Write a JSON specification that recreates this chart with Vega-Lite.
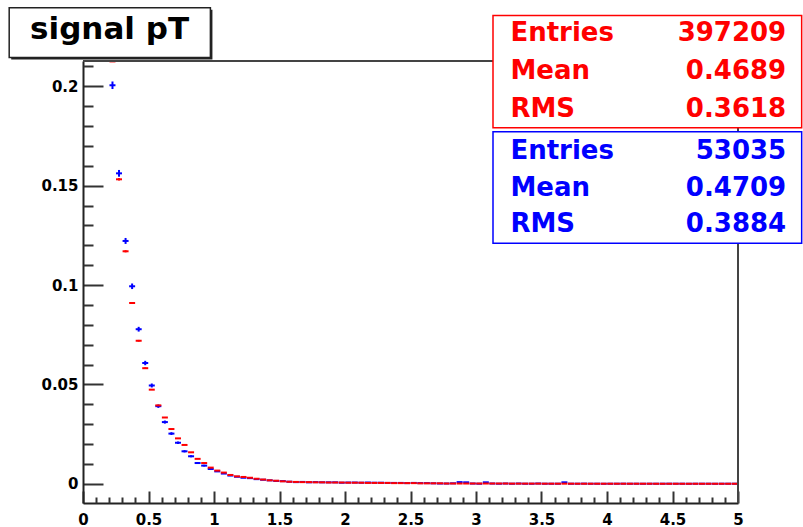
{
  "$schema": "https://vega.github.io/schema/vega-lite/v6.json",
  "width": 655,
  "height": 442,
  "autosize": {"type": "none"},
  "padding": {"left": 83, "top": 61, "right": 65, "bottom": 24},
  "background": "white",
  "config": {"view": {"stroke": null}, "font": "DejaVu Sans"},
  "resolve": {"axis": {"x": "independent", "y": "independent"}},
  "data": {"values": [
    {"x":0.225,"r":0.2125,"b":0.2005,"be":0.0019},
    {"x":0.275,"r":0.1532,"b":0.1562,"re":0.0006,"be":0.0017},
    {"x":0.325,"r":0.1170,"b":0.1222,"re":0.00054,"be":0.0015},
    {"x":0.375,"r":0.0910,"b":0.0994,"re":0.00048,"be":0.0014},
    {"x":0.425,"r":0.0720,"b":0.0778,"re":0.00043,"be":0.0012},
    {"x":0.475,"r":0.0582,"b":0.0608,"re":0.00038,"be":0.0011},
    {"x":0.525,"r":0.0474,"b":0.0495,"be":0.001},
    {"x":0.575,"r":0.0395,"b":0.0391,"be":0.00086},
    {"x":0.625,"r":0.0334,"b":0.0311,"be":0.00077},
    {"x":0.675,"r":0.0276,"b":0.0253,"be":0.0007},
    {"x":0.725,"r":0.0229,"b":0.0207,"be":0.00062},
    {"x":0.775,"r":0.0196,"b":0.0164,"be":0.00056},
    {"x":0.825,"r":0.0159,"b":0.0139,"be":0.00051},
    {"x":0.875,"r":0.0126,"b":0.0105,"be":0.00045},
    {"x":0.925,"r":0.0105,"b":0.0092,"be":0.00042},
    {"x":0.975,"r":0.0082,"b":0.0075},
    {"x":1.025,"r":0.0067,"b":0.0063},
    {"x":1.075,"r":0.0057,"b":0.0052},
    {"x":1.125,"r":0.0045,"b":0.0042},
    {"x":1.175,"r":0.0038,"b":0.0036},
    {"x":1.225,"r":0.0035,"b":0.0031},
    {"x":1.275,"r":0.0031,"b":0.0029},
    {"x":1.325,"r":0.0026,"b":0.0024},
    {"x":1.375,"r":0.0022,"b":0.0021},
    {"x":1.425,"r":0.0018,"b":0.0018},
    {"x":1.475,"r":0.0016,"b":0.0015},
    {"x":1.525,"r":0.0013,"b":0.0014},
    {"x":1.575,"r":0.0011,"b":0.0011},
    {"x":1.625,"r":0.0010,"b":0.0009},
    {"x":1.675,"r":0.0009,"b":0.0010},
    {"x":1.725,"r":0.0009,"b":0.0008},
    {"x":1.775,"r":0.0008,"b":0.0009},
    {"x":1.825,"r":0.0008,"b":0.0008},
    {"x":1.875,"r":0.0007,"b":0.0008},
    {"x":1.925,"r":0.0007,"b":0.0008},
    {"x":1.975,"r":0.0007,"b":0.0006},
    {"x":2.025,"r":0.0006,"b":0.0007},
    {"x":2.075,"r":0.0006,"b":0.0007},
    {"x":2.125,"r":0.0006,"b":0.0006},
    {"x":2.175,"r":0.0005,"b":0.0007},
    {"x":2.225,"r":0.0005,"b":0.0006},
    {"x":2.275,"r":0.0005,"b":0.0006},
    {"x":2.325,"r":0.0005,"b":0.0005},
    {"x":2.375,"r":0.0004,"b":0.0005},
    {"x":2.425,"r":0.0004,"b":0.0005},
    {"x":2.475,"r":0.0004,"b":0.0004},
    {"x":2.525,"r":0.0004,"b":0.0005},
    {"x":2.575,"r":0.0003,"b":0.0004},
    {"x":2.625,"r":0.0003,"b":0.0004},
    {"x":2.675,"r":0.0003,"b":0.0003},
    {"x":2.725,"r":0.0003,"b":0.0002},
    {"x":2.775,"r":0.0002,"b":0.0002},
    {"x":2.825,"r":0.0002,"b":0.0003},
    {"x":2.875,"r":0.0002,"b":0.0009},
    {"x":2.925,"r":0.0002,"b":0.0008},
    {"x":2.975,"r":0.0002,"b":0.0002},
    {"x":3.025,"r":0.0002,"b":0.0001},
    {"x":3.075,"r":0.0002,"b":0.0008},
    {"x":3.125,"r":0.0002,"b":0.0002},
    {"x":3.175,"r":0.0002,"b":0.0001},
    {"x":3.225,"r":0.0002,"b":0.0002},
    {"x":3.275,"r":0.00015,"b":0.0001},
    {"x":3.325,"r":0.00015,"b":0.0002},
    {"x":3.375,"r":0.00015,"b":0.0001},
    {"x":3.425,"r":0.00015,"b":0.0001},
    {"x":3.475,"r":0.00015,"b":0.0002},
    {"x":3.525,"r":0.00012,"b":0.0001},
    {"x":3.575,"r":0.00012,"b":0.0001},
    {"x":3.625,"r":0.00012,"b":0.0001},
    {"x":3.675,"r":0.00012,"b":0.0008},
    {"x":3.725,"r":0.00012,"b":0.0001},
    {"x":3.775,"r":0.0001,"b":0.0001},
    {"x":3.825,"r":0.0001,"b":0.00015},
    {"x":3.875,"r":0.0001,"b":0.0001},
    {"x":3.925,"r":0.0001,"b":0.0001},
    {"x":3.975,"r":0.0001,"b":0.00008},
    {"x":4.025,"r":0.0001,"b":0.0001},
    {"x":4.075,"r":0.0001,"b":0.0001},
    {"x":4.125,"r":0.0001,"b":0.00012},
    {"x":4.175,"r":0.0001,"b":0.0001},
    {"x":4.225,"r":0.0001,"b":0.0001},
    {"x":4.275,"r":0.0001,"b":0.00008},
    {"x":4.325,"r":0.0001,"b":0.0001},
    {"x":4.375,"r":0.00008,"b":0.0001},
    {"x":4.425,"r":0.00008,"b":0.0001},
    {"x":4.475,"r":0.00008,"b":0.00012},
    {"x":4.525,"r":0.00008,"b":0.0001},
    {"x":4.575,"r":0.00008,"b":0.0001},
    {"x":4.625,"r":0.00008,"b":0.00008},
    {"x":4.675,"r":0.00008,"b":0.0001},
    {"x":4.725,"r":0.00008,"b":0.0001},
    {"x":4.775,"r":0.00008,"b":0.0001},
    {"x":4.825,"r":0.00008,"b":0.00008},
    {"x":4.875,"r":0.00008,"b":0.0001},
    {"x":4.925,"r":0.00008,"b":0.0001},
    {"x":4.975,"r":0.00008,"b":0.0001}
  ]},
  "layer": [
    {
      "mark": {"type": "tick", "orient": "horizontal", "color": "#0000ff", "size": 6, "thickness": 2, "opacity": 1, "clip": true},
      "encoding": {
        "x": {"field": "x", "type": "quantitative",
          "scale": {"domain": [0, 5], "nice": false, "zero": false},
          "axis": {
            "orient": "bottom",
            "values": [0,0.5,1,1.5,2,2.5,3,3.5,4,4.5,5],
            "format": "~g",
            "tickSize": -12,
            "labelPadding": 21,
            "labelFont": "DejaVu Sans", "labelFontSize": 15, "labelFontWeight": "bold", "labelColor": "#000",
            "tickColor": "#333", "tickWidth": 2,
            "domainColor": "#222", "domainWidth": 2,
            "grid": false, "title": null, "labelFlush": false, "labelOverlap": false, "labelBound": false
          }
        },
        "y": {"field": "b", "type": "quantitative",
          "scale": {"domain": [-0.0096, 0.2127], "nice": false, "zero": false},
          "axis": {
            "orient": "left",
            "values": [0,0.05,0.1,0.15,0.2],
            "format": "~g",
            "tickSize": -20,
            "labelPadding": 25,
            "labelFont": "DejaVu Sans", "labelFontSize": 15, "labelFontWeight": "bold", "labelColor": "#000",
            "tickColor": "#333", "tickWidth": 2,
            "domainColor": "#222", "domainWidth": 2,
            "grid": false, "title": null, "labelFlush": false, "labelOverlap": false, "labelBound": false
          }
        }
      }
    },
    {
      "transform": [{"filter": "isValid(datum.be)"}],
      "mark": {"type": "errorbar", "color": "#0000ff", "thickness": 2},
      "encoding": {
        "x": {"field": "x", "type": "quantitative", "axis": null},
        "y": {"field": "b", "type": "quantitative", "axis": null},
        "yError": {"field": "be"}
      }
    },
    {
      "mark": {"type": "tick", "orient": "horizontal", "color": "#ff0000", "size": 6, "thickness": 2, "opacity": 1, "clip": true},
      "encoding": {
        "x": {"field": "x", "type": "quantitative",
          "axis": {
            "orient": "bottom",
            "values": [0.1,0.2,0.3,0.4,0.6,0.7,0.8,0.9,1.1,1.2,1.3,1.4,1.6,1.7,1.8,1.9,2.1,2.2,2.3,2.4,2.6,2.7,2.8,2.9,3.1,3.2,3.3,3.4,3.6,3.7,3.8,3.9,4.1,4.2,4.3,4.4,4.6,4.7,4.8,4.9],
            "tickSize": -6, "labels": false, "domain": false,
            "tickColor": "#333", "tickWidth": 2, "grid": false, "title": null
          }
        },
        "y": {"field": "r", "type": "quantitative",
          "axis": {
            "orient": "left",
            "values": [0.01,0.02,0.03,0.04,0.06,0.07,0.08,0.09,0.11,0.12,0.13,0.14,0.16,0.17,0.18,0.19,0.21],
            "tickSize": -10, "labels": false, "domain": false,
            "tickColor": "#333", "tickWidth": 2, "grid": false, "title": null
          }
        }
      }
    },
    {
      "transform": [{"filter": "isValid(datum.re)"}],
      "mark": {"type": "errorbar", "color": "#ff0000", "thickness": 2},
      "encoding": {
        "x": {"field": "x", "type": "quantitative", "axis": null},
        "y": {"field": "r", "type": "quantitative", "axis": null},
        "yError": {"field": "re"}
      }
    },
    {
      "data": {"values": [{}]},
      "mark": {"type": "rule", "color": "#444", "strokeWidth": 2},
      "encoding": {
        "x": {"datum": 0, "type": "quantitative", "axis": null},
        "x2": {"datum": 5},
        "y": {"datum": 0.2127, "type": "quantitative", "axis": null}
      }
    },
    {
      "data": {"values": [{}]},
      "mark": {"type": "rule", "color": "#444", "strokeWidth": 2},
      "encoding": {
        "x": {"datum": 5, "type": "quantitative", "axis": null},
        "y": {"datum": -0.0096, "type": "quantitative", "axis": null},
        "y2": {"datum": 0.2127}
      }
    },
    {
      "data": {"values": [{}]},
      "mark": {"type": "rect", "color": "#222", "opacity": 1},
      "encoding": {
        "x": {"datum": -0.548, "type": "quantitative", "axis": null},
        "x2": {"datum": 0.988},
        "y": {"datum": 0.2385, "type": "quantitative", "axis": null},
        "y2": {"datum": 0.2134}
      }
    },
    {
      "data": {"values": [{}]},
      "mark": {"type": "rect", "fill": "white", "stroke": "#222", "strokeWidth": 1.5, "opacity": 1},
      "encoding": {
        "x": {"datum": -0.5634, "type": "quantitative", "axis": null},
        "x2": {"datum": 0.9725},
        "y": {"datum": 0.2395, "type": "quantitative", "axis": null},
        "y2": {"datum": 0.2144}
      }
    },
    {
      "data": {"values": [{"t": "signal pT"}]},
      "mark": {"type": "text", "font": "DejaVu Sans", "fontWeight": "bold", "fontSize": 31, "color": "#000", "align": "center", "baseline": "middle"},
      "encoding": {
        "x": {"datum": 0.2027, "type": "quantitative", "axis": null},
        "y": {"datum": 0.2281, "type": "quantitative", "axis": null},
        "text": {"field": "t"}
      }
    },
    {
      "data": {"values": [{}]},
      "mark": {"type": "rect", "fill": "white", "stroke": "#ff0000", "strokeWidth": 1.5, "opacity": 1},
      "encoding": {
        "x": {"datum": 3.1298, "type": "quantitative", "axis": null},
        "x2": {"datum": 5.486},
        "y": {"datum": 0.2356, "type": "quantitative", "axis": null},
        "y2": {"datum": 0.1791}
      }
    },
    {
      "data": {"values": [{"names": ["Entries", "Mean", "RMS"], "vals": ["397209", "0.4689", "0.3618"]}]},
      "layer": [
        {
          "mark": {"type": "text", "font": "DejaVu Sans", "fontWeight": "bold", "fontSize": 26, "color": "#ff0000", "align": "left", "baseline": "middle", "lineHeight": 38},
          "encoding": {
            "x": {"datum": 3.2626, "type": "quantitative", "axis": null},
            "y": {"datum": 0.2270, "type": "quantitative", "axis": null},
            "text": {"field": "names"}
          }
        },
        {
          "mark": {"type": "text", "font": "DejaVu Sans", "fontWeight": "bold", "fontSize": 26, "color": "#ff0000", "align": "right", "baseline": "middle", "lineHeight": 38},
          "encoding": {
            "x": {"datum": 5.368, "type": "quantitative", "axis": null},
            "y": {"datum": 0.2270, "type": "quantitative", "axis": null},
            "text": {"field": "vals"}
          }
        }
      ]
    },
    {
      "data": {"values": [{}]},
      "mark": {"type": "rect", "fill": "white", "stroke": "#0000ff", "strokeWidth": 1.5, "opacity": 1},
      "encoding": {
        "x": {"datum": 3.1298, "type": "quantitative", "axis": null},
        "x2": {"datum": 5.486},
        "y": {"datum": 0.1771, "type": "quantitative", "axis": null},
        "y2": {"datum": 0.1210}
      }
    },
    {
      "data": {"values": [{"names": ["Entries", "Mean", "RMS"], "vals": ["53035", "0.4709", "0.3884"]}]},
      "layer": [
        {
          "mark": {"type": "text", "font": "DejaVu Sans", "fontWeight": "bold", "fontSize": 26, "color": "#0000ff", "align": "left", "baseline": "middle", "lineHeight": 36.5},
          "encoding": {
            "x": {"datum": 3.2626, "type": "quantitative", "axis": null},
            "y": {"datum": 0.1672, "type": "quantitative", "axis": null},
            "text": {"field": "names"}
          }
        },
        {
          "mark": {"type": "text", "font": "DejaVu Sans", "fontWeight": "bold", "fontSize": 26, "color": "#0000ff", "align": "right", "baseline": "middle", "lineHeight": 36.5},
          "encoding": {
            "x": {"datum": 5.368, "type": "quantitative", "axis": null},
            "y": {"datum": 0.1672, "type": "quantitative", "axis": null},
            "text": {"field": "vals"}
          }
        }
      ]
    }
  ]
}
